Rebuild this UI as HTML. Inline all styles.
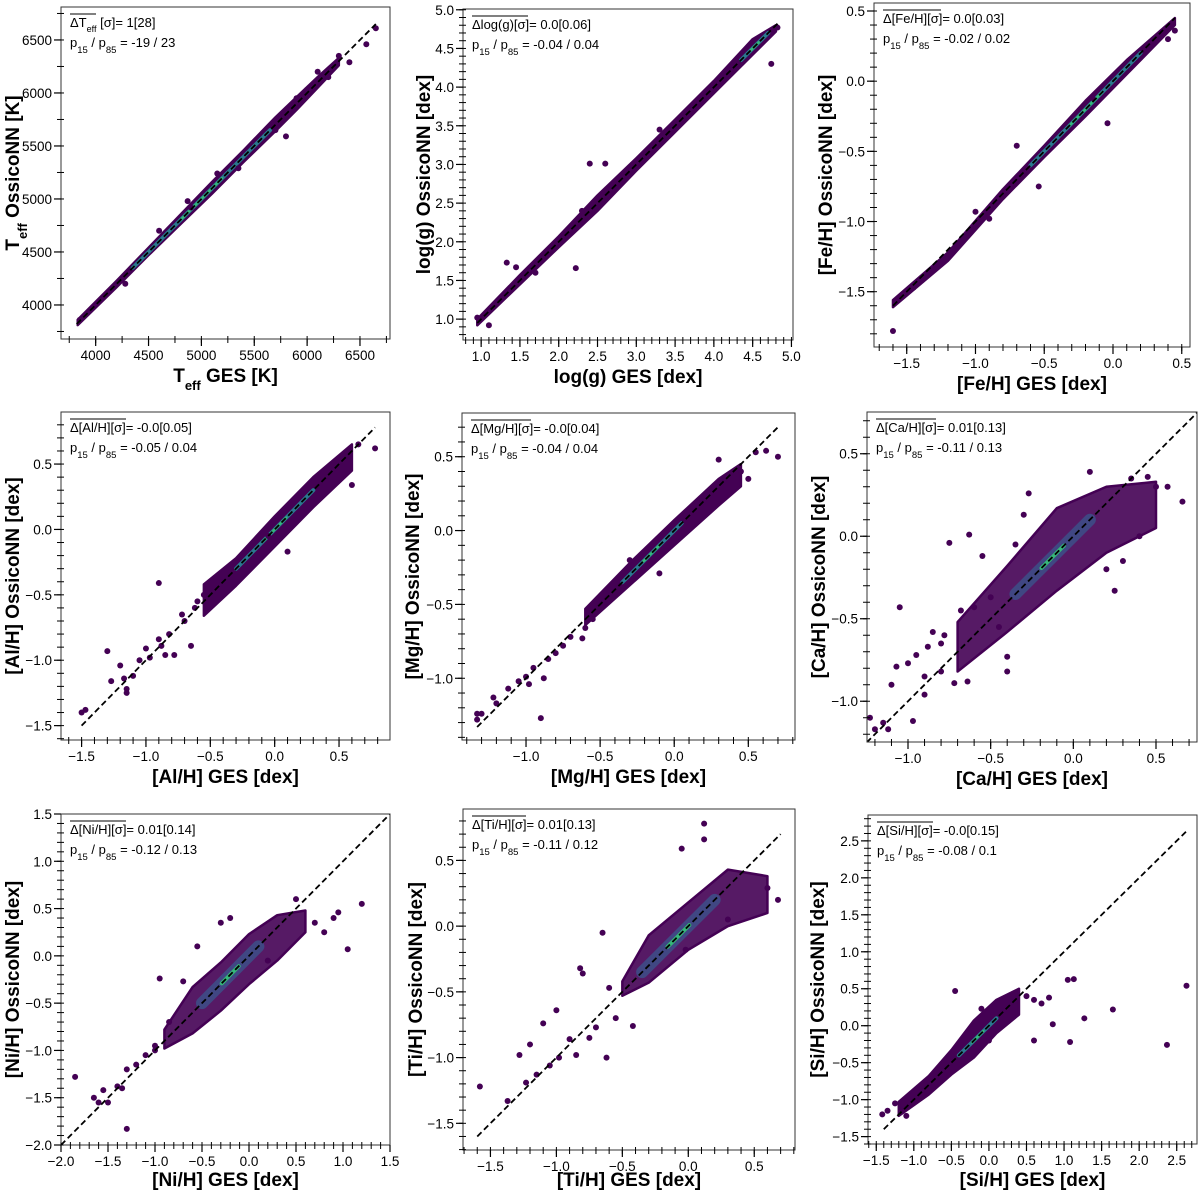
<!DOCTYPE html>
<html><head><meta charset="utf-8"><style>
body{margin:0;background:#fff}
svg{display:block;font-family:"Liberation Sans","DejaVu Sans",sans-serif}
</style></head><body>
<svg id="fig" width="1200" height="1192" viewBox="0 0 1200 1192" xmlns="http://www.w3.org/2000/svg"></svg>
<script>
// ---- data ----
const p1BandX=[3830,4200,4500,4800,5100,5400,5700,5900,6100,6300];
const p1BandLo=[3810,4170,4470,4760,5050,5350,5640,5840,6050,6260];
const p1BandHi=[3860,4230,4540,4850,5160,5460,5770,5960,6150,6330];
const p1OutX=[3850,4280,4870,4900,5150,5350,5800,5900,6000,6200,6300,6400,6560,6650,4600,5700,6100];
const p1OutY=[3860,4200,4980,4920,5240,5290,5590,5950,6030,6150,6350,6290,6460,6610,4700,5650,6200];

const p2BandX=[0.95,1.5,2.0,2.5,3.0,3.5,4.0,4.5,4.8];
const p2BandLo=[0.92,1.45,1.93,2.4,2.92,3.42,3.92,4.42,4.72];
const p2BandHi=[1.0,1.57,2.07,2.6,3.08,3.58,4.08,4.62,4.8];
const p2OutX=[0.95,1.1,1.33,1.45,2.22,2.4,2.6,2.95,4.74,4.82,1.7,2.3,3.3];
const p2OutY=[1.02,0.92,1.73,1.67,1.66,3.01,3.01,3.0,4.3,4.77,1.6,2.4,3.45];

const p3BandX=[-1.6,-1.2,-0.8,-0.5,-0.2,0.1,0.45];
const p3BandLo=[-1.61,-1.28,-0.84,-0.54,-0.25,0.05,0.4];
const p3BandHi=[-1.56,-1.22,-0.77,-0.46,-0.14,0.15,0.45];
const p3OutX=[-1.6,-0.7,-0.54,-0.04,-0.15,0.45,0.4,-1.45,-1.0,-0.9];
const p3OutY=[-1.78,-0.46,-0.75,-0.3,-0.12,0.36,0.3,-1.47,-0.93,-0.98];

const p4BandX=[-0.55,-0.3,0.0,0.3,0.6];
const p4BandLo=[-0.66,-0.43,-0.13,0.17,0.45];
const p4BandHi=[-0.42,-0.22,0.1,0.4,0.65];
const p4OutX=[-1.5,-1.47,-1.3,-1.27,-1.2,-1.17,-1.15,-1.15,-1.1,-1.05,-1.0,-0.97,-0.9,-0.88,-0.85,-0.82,-0.78,-0.72,-0.65,-0.7,-0.62,-0.9,0.78,0.65,0.6,0.1,-0.05,-0.55,-0.6];
const p4OutY=[-1.4,-1.38,-0.93,-1.16,-1.04,-1.14,-1.22,-1.25,-1.12,-1.0,-0.91,-0.98,-0.84,-0.89,-0.96,-0.8,-0.96,-0.65,-0.89,-0.7,-0.6,-0.41,0.62,0.65,0.34,-0.17,-0.05,-0.5,-0.55];

const p5BandX=[-0.6,-0.3,0.0,0.3,0.45];
const p5BandLo=[-0.64,-0.37,-0.1,0.17,0.3];
const p5BandHi=[-0.53,-0.22,0.07,0.35,0.45];
const p5OutX=[-1.33,-1.33,-1.3,-1.22,-1.2,-1.12,-1.05,-1.0,-0.98,-0.95,-0.9,-0.88,-0.85,-0.8,-0.75,-0.7,-0.62,-0.55,-0.6,-0.3,-0.1,0.55,0.62,0.7,0.3,0.5,0.45];
const p5OutY=[-1.24,-1.28,-1.24,-1.13,-1.17,-1.07,-1.02,-0.99,-1.04,-0.93,-1.27,-1.0,-0.87,-0.83,-0.78,-0.72,-0.73,-0.6,-0.66,-0.2,-0.29,0.53,0.54,0.5,0.48,0.35,0.4];

const p6BandX=[-0.7,-0.4,-0.1,0.2,0.5];
const p6BandLo=[-0.82,-0.58,-0.33,-0.1,0.05];
const p6BandHi=[-0.52,-0.18,0.17,0.3,0.33];
const p6OutX=[-1.23,-1.2,-1.15,-1.12,-1.1,-1.05,-1.07,-1.0,-0.97,-0.95,-0.9,-0.88,-0.85,-0.8,-0.78,-0.75,-0.72,-0.68,-0.64,-0.6,-0.55,-0.5,-0.45,-0.4,-0.35,-0.27,-0.4,-0.3,0.1,0.25,0.35,0.45,0.5,0.57,0.66,0.4,0.3,0.2,-0.63,-0.9,-0.8];
const p6OutY=[-1.1,-1.17,-1.13,-1.17,-0.9,-0.43,-0.79,-0.77,-1.12,-0.72,-0.85,-0.67,-0.58,-0.65,-0.6,-0.04,-0.89,-0.45,-0.88,-0.43,-0.12,-0.37,-0.55,-0.82,-0.05,0.26,-0.73,0.13,0.39,-0.33,0.35,0.36,0.3,0.3,0.21,0.0,-0.15,-0.2,0.01,-0.96,-0.82];

const p7BandX=[-0.9,-0.6,-0.3,0.0,0.3,0.6];
const p7BandLo=[-0.98,-0.82,-0.58,-0.3,-0.05,0.25];
const p7BandHi=[-0.78,-0.33,-0.07,0.23,0.43,0.48];
const p7OutX=[-1.85,-1.65,-1.6,-1.55,-1.5,-1.4,-1.35,-1.3,-1.3,-1.2,-1.1,-1.0,-0.95,-1.0,-0.85,-0.7,0.7,0.8,0.9,0.95,1.05,1.2,0.5,-0.55,-0.3,-0.2,0.2];
const p7OutY=[-1.28,-1.5,-1.55,-1.42,-1.55,-1.38,-1.4,-1.83,-1.2,-1.15,-1.05,-1.0,-0.24,-0.95,-0.7,-0.27,0.35,0.25,0.4,0.46,0.07,0.55,0.6,0.1,0.35,0.4,-0.05];

const p8BandX=[-0.5,-0.3,0.0,0.3,0.6];
const p8BandLo=[-0.53,-0.43,-0.18,0.0,0.1];
const p8BandHi=[-0.42,-0.07,0.18,0.43,0.38];
const p8OutX=[-1.58,-1.37,-1.28,-1.23,-1.2,-1.15,-1.1,-1.05,-1.0,-0.98,-0.9,-0.85,-0.82,-0.8,-0.75,-0.7,-0.62,-0.55,-0.6,-0.65,-0.42,0.12,0.12,-0.05,0.6,0.68,-0.02,0.3];
const p8OutY=[-1.22,-1.33,-0.98,-1.19,-0.9,-1.13,-0.74,-1.06,-0.64,-1.0,-0.86,-0.98,-0.32,-0.36,-0.85,-0.77,-1.0,-0.7,-0.47,-0.05,-0.76,0.78,0.66,0.59,0.29,0.2,-0.18,0.05];

const p9BandX=[-1.2,-0.8,-0.5,-0.2,0.1,0.4];
const p9BandLo=[-1.22,-0.93,-0.66,-0.43,-0.1,0.15];
const p9BandHi=[-1.03,-0.68,-0.33,0.07,0.35,0.5];
const p9OutX=[-1.42,-1.35,-1.25,-1.1,-0.7,0.5,0.6,0.7,0.8,0.85,1.05,1.08,1.13,1.27,1.65,2.37,2.63,0.0,-0.1,-0.45,0.6];
const p9OutY=[-1.2,-1.15,-1.05,-1.22,-0.7,0.4,0.35,0.3,0.38,0.02,0.62,-0.22,0.63,0.1,0.22,-0.26,0.54,-0.2,0.23,0.47,-0.2];

const coreStart=[4350,4.35,-0.6,-0.3,-0.35,-0.35,-0.5,-0.35,-0.4];
const coreEnd=[5650,4.7,0.2,0.3,0.05,0.1,0.1,0.2,0.1];
const lineStart=[3820,0.95,-1.6,-1.5,-1.33,-1.25,-2.0,-1.6,-1.4];
const lineEnd=[6650,4.82,0.45,0.78,0.7,0.75,1.5,0.7,2.63];
const xTicks=[[4000,4500,5000,5500,6000,6500],[1,1.5,2,2.5,3,3.5,4,4.5,5],[-1.5,-1,-0.5,0,0.5],[-1.5,-1,-0.5,0,0.5],[-1,-0.5,0,0.5],[-1,-0.5,0,0.5],[-2,-1.5,-1,-0.5,0,0.5,1,1.5],[-1.5,-1,-0.5,0,0.5],[-1.5,-1,-0.5,0,0.5,1,1.5,2,2.5]];
const yTicks=[[4000,4500,5000,5500,6000,6500],[1,1.5,2,2.5,3,3.5,4,4.5,5],[-1.5,-1,-0.5,0,0.5],[-1.5,-1,-0.5,0,0.5],[-1,-0.5,0,0.5],[-1,-0.5,0,0.5],[-2,-1.5,-1,-0.5,0,0.5,1,1.5],[-1.5,-1,-0.5,0,0.5],[-1.5,-1,-0.5,0,0.5,1,1.5,2,2.5]];
const xTickLabels=[["4000","4500","5000","5500","6000","6500"],["1.0","1.5","2.0","2.5","3.0","3.5","4.0","4.5","5.0"],["−1.5","−1.0","−0.5","0.0","0.5"],["−1.5","−1.0","−0.5","0.0","0.5"],["−1.0","−0.5","0.0","0.5"],["−1.0","−0.5","0.0","0.5"],["−2.0","−1.5","−1.0","−0.5","0.0","0.5","1.0","1.5"],["−1.5","−1.0","−0.5","0.0","0.5"],["−1.5","−1.0","−0.5","0.0","0.5","1.0","1.5","2.0","2.5"]];
const yTickLabels=[["4000","4500","5000","5500","6000","6500"],["1.0","1.5","2.0","2.5","3.0","3.5","4.0","4.5","5.0"],["−1.5","−1.0","−0.5","0.0","0.5"],["−1.5","−1.0","−0.5","0.0","0.5"],["−1.0","−0.5","0.0","0.5"],["−1.0","−0.5","0.0","0.5"],["−2.0","−1.5","−1.0","−0.5","0.0","0.5","1.0","1.5"],["−1.5","−1.0","−0.5","0.0","0.5"],["−1.5","−1.0","−0.5","0.0","0.5","1.0","1.5","2.0","2.5"]];
const statMean=["ΔT<tspan baseline-shift='sub' font-size='9'>eff</tspan> [σ]= 1[28]","Δlog(g)[σ]= 0.0[0.06]","Δ[Fe/H][σ]= 0.0[0.03]","Δ[Al/H][σ]= -0.0[0.05]","Δ[Mg/H][σ]= -0.0[0.04]","Δ[Ca/H][σ]= 0.01[0.13]","Δ[Ni/H][σ]= 0.01[0.14]","Δ[Ti/H][σ]= 0.01[0.13]","Δ[Si/H][σ]= -0.0[0.15]"];
const statOverW=[26,40,42,40,44,44,40,38,40];
const statPct=["-19 / 23","-0.04 / 0.04","-0.02 / 0.02","-0.05 / 0.04","-0.04 / 0.04","-0.11 / 0.13","-0.12 / 0.13","-0.11 / 0.12","-0.08 / 0.1"];
const names=["teff","logg","feh","alh","mgh","cah","nih","tih","sih"];
const xLabels=["T<tspan baseline-shift='sub' font-size='13'>eff</tspan> GES [K]","log(g) GES [dex]","[Fe/H] GES [dex]","[Al/H] GES [dex]","[Mg/H] GES [dex]","[Ca/H] GES [dex]","[Ni/H] GES [dex]","[Ti/H] GES [dex]","[Si/H] GES [dex]"];
const yLabels=["T<tspan baseline-shift='sub' font-size='13'>eff</tspan> OssicoNN [K]","log(g) OssicoNN [dex]","[Fe/H] OssicoNN [dex]","[Al/H] OssicoNN [dex]","[Mg/H] OssicoNN [dex]","[Ca/H] OssicoNN [dex]","[Ni/H] OssicoNN [dex]","[Ti/H] OssicoNN [dex]","[Si/H] OssicoNN [dex]"];
// ---- layout (not data) ----
const frames=[[61,7,390,339],[463,9,793,340],[874,3,1190,347],[61,412,390,740],[462,413,795,740],[867,412,1197,742],[61,814,390,1145],[463,809,795,1150],[868,815,1197,1144]];
const xDom=[[3672,6784],[0.766,5.02],[-1.738,0.56],[-1.66,0.896],[-1.432,0.815],[-1.248,0.748],[-2,1.5],[-1.708,0.809],[-1.61,2.77]];
const yDom=[[3679,6811],[0.73,5.01],[-1.894,0.557],[-1.61,0.898],[-1.418,0.796],[-1.247,0.753],[-2,1.5],[-1.703,0.891],[-1.6,2.85]];
const minorStep=[250,0.1,0.1,0.1,0.1,0.1,0.1,0.1,0.1];
const yLabOff=[49,40,49,49,50,49,49,48,51];
const bands=[[p1BandX,p1BandLo,p1BandHi],[p2BandX,p2BandLo,p2BandHi],[p3BandX,p3BandLo,p3BandHi],[p4BandX,p4BandLo,p4BandHi],[p5BandX,p5BandLo,p5BandHi],[p6BandX,p6BandLo,p6BandHi],[p7BandX,p7BandLo,p7BandHi],[p8BandX,p8BandLo,p8BandHi],[p9BandX,p9BandLo,p9BandHi]];
const outs=[[p1OutX,p1OutY],[p2OutX,p2OutY],[p3OutX,p3OutY],[p4OutX,p4OutY],[p5OutX,p5OutY],[p6OutX,p6OutY],[p7OutX,p7OutY],[p8OutX,p8OutY],[p9OutX,p9OutY]];

const NS="http://www.w3.org/2000/svg";
const svg=document.getElementById('fig');
function mk(tag,attrs,parent){const e=document.createElementNS(NS,tag);for(const k in attrs)e.setAttribute(k,attrs[k]);parent.appendChild(e);return e;}

for(let i=0;i<9;i++){
  const [L,T,R,B]=frames[i];
  const sx=v=>L+(v-xDom[i][0])/(xDom[i][1]-xDom[i][0])*(R-L);
  const sy=v=>B-(v-yDom[i][0])/(yDom[i][1]-yDom[i][0])*(B-T);
  const g=mk('g',{},svg);
  
  
  const clipId='c'+i;
  const cp=mk('clipPath',{id:clipId},g);
  mk('rect',{x:L,y:T,width:R-L,height:B-T},cp);
  const plot=mk('g',{'clip-path':'url(#'+clipId+')'},g);
  const sparse=(i>=5&&i<=7);
  const [bx,blo,bhi]=bands[i];
  let pts=[];
  for(let k=0;k<bx.length;k++)pts.push(sx(bx[k])+','+sy(blo[k]));
  for(let k=bx.length-1;k>=0;k--)pts.push(sx(bx[k])+','+sy(bhi[k]));
  const band=mk('polygon',{points:pts.join(' '),fill:'#440154','fill-opacity':sparse?0.9:1,stroke:'#440154','stroke-width':2.5,'stroke-linejoin':'round'},plot);
  
  
  const core=mk('line',{x1:sx(coreStart[i]),y1:sy(coreStart[i]),x2:sx(coreEnd[i]),y2:sy(coreEnd[i]),stroke:sparse?'#3b528b':'#2a788e','stroke-width':sparse?12:4,'stroke-linecap':'round','stroke-opacity':sparse?0.8:1},plot);
  
  
  const mid=(coreStart[i]+coreEnd[i])/2, hw=(coreEnd[i]-coreStart[i])*0.15;
  const hot=mk('line',{x1:sx(mid-hw),y1:sy(mid-hw),x2:sx(mid+hw),y2:sy(mid+hw),stroke:'#35b779','stroke-width':sparse?4:2.5,'stroke-linecap':'round'},plot);
  
  
  const [ox,oy]=outs[i];
  for(let k=0;k<ox.length;k++){
    const c=mk('circle',{cx:sx(ox[k]),cy:sy(oy[k]),r:3,fill:'#440154'},plot);
    
    
  }
  const ln=mk('line',{x1:sx(lineStart[i]),y1:sy(lineStart[i]),x2:sx(lineEnd[i]),y2:sy(lineEnd[i]),stroke:'#000','stroke-width':1.8,'stroke-dasharray':'6,3.5'},plot);
  
  
  const fr=mk('rect',{x:L,y:T,width:R-L,height:B-T,fill:'none',stroke:'#333','stroke-width':1},g);
  
  
  const ms=minorStep[i];
  for(let v=Math.ceil(xDom[i][0]/ms)*ms;v<=xDom[i][1];v+=ms){const x=sx(v);mk('line',{x1:x,y1:B-3,x2:x,y2:B+4,stroke:'#000','stroke-width':1},g);}
  for(let v=Math.ceil(yDom[i][0]/ms)*ms;v<=yDom[i][1];v+=ms){const y=sy(v);mk('line',{x1:L-4,y1:y,x2:L+3,y2:y,stroke:'#000','stroke-width':1},g);}
  xTicks[i].forEach((v,k)=>{const x=sx(v);mk('line',{x1:x,y1:B,x2:x,y2:B+7,stroke:'#000','stroke-width':1.2},g);
    const t=mk('text',{x:x,y:B+21,'font-size':13.5,'text-anchor':'middle',fill:'#000'},g);t.textContent=xTickLabels[i][k];
    });
  yTicks[i].forEach((v,k)=>{const y=sy(v);mk('line',{x1:L-7,y1:y,x2:L,y2:y,stroke:'#000','stroke-width':1.2},g);
    const t=mk('text',{x:L-9,y:y+5,'font-size':13.5,'text-anchor':'end',fill:'#000'},g);t.textContent=yTickLabels[i][k];
    });
  const xl=mk('text',{x:(L+R)/2,y:Math.min(B+43,1186),'font-size':19,'font-weight':'bold','text-anchor':'middle',fill:'#000'},g);
  xl.innerHTML=xLabels[i];
  
  const cx=L-yLabOff[i], cy=(T+B)/2;
  const yl=mk('text',{x:cx,y:cy+7,'font-size':19,'font-weight':'bold','text-anchor':'middle',fill:'#000',transform:'rotate(-90 '+cx+' '+cy+')'},g);
  yl.innerHTML=yLabels[i];
  
  const a1=mk('text',{x:L+9,y:T+20,'font-size':13,fill:'#000'},g);
  a1.innerHTML=statMean[i];
  
  const a1w=a1.getComputedTextLength? null:null;
  mk('line',{x1:L+9,y1:T+7,x2:L+9+statOverW[i]+ (i===0?0:16),y2:T+7,stroke:'#000','stroke-width':0.9},g);
  const a2=mk('text',{x:L+9,y:T+40,'font-size':13,fill:'#000'},g);
  a2.innerHTML="p<tspan baseline-shift='sub' font-size='9.5'>15</tspan> / p<tspan baseline-shift='sub' font-size='9.5'>85</tspan> = "+statPct[i];
  
}
</script>
</body></html>
